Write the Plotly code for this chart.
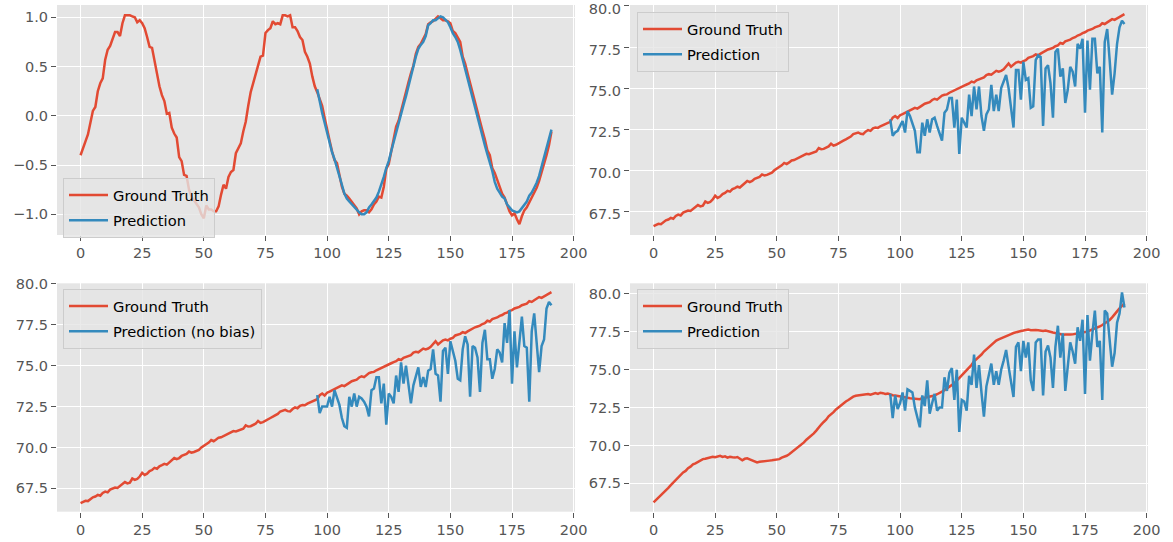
import plotly.graph_objects as go

RED = "#E24A33"
BLUE = "#348ABD"

x_full = list(range(192))
x_pred = list(range(96, 192))

sine_truth = [
    -0.40, -0.34, -0.26, -0.19, -0.06, 0.05, 0.09, 0.25, 0.33, 0.38,
    0.57, 0.67, 0.71, 0.78, 0.85, 0.85, 0.81, 0.94, 1.02, 1.02,
    1.02, 1.01, 1.00, 0.95, 0.97, 0.94, 0.89, 0.80, 0.70, 0.69,
    0.55, 0.43, 0.30, 0.21, 0.15, 0.02, 0.03, -0.12, -0.18, -0.22,
    -0.42, -0.46, -0.60, -0.61, -0.75, -0.82, -0.86, -0.89, -0.93, -1.00,
    -1.04, -0.91, -0.95, -0.95, -0.97, -0.97, -0.92, -0.80, -0.70, -0.74,
    -0.62, -0.57, -0.55, -0.38, -0.33, -0.28, -0.16, -0.06, 0.10, 0.24,
    0.33, 0.42, 0.52, 0.60, 0.61, 0.84, 0.87, 0.89, 0.96, 0.93,
    0.94, 0.93, 1.02, 1.02, 1.01, 1.02, 0.90, 0.90, 0.86, 0.80,
    0.77, 0.65, 0.60, 0.53, 0.40, 0.30, 0.24, 0.17, 0.10, -0.02,
    -0.15, -0.25, -0.36, -0.45, -0.48, -0.60, -0.72, -0.79, -0.81, -0.84,
    -0.87, -0.90, -0.94, -1.00, -0.97, -0.96, -0.96, -0.98, -0.95, -0.90,
    -0.87, -0.82, -0.83, -0.72, -0.54, -0.49, -0.36, -0.24, -0.11, -0.05,
    0.05, 0.14, 0.27, 0.34, 0.43, 0.51, 0.63, 0.70, 0.73, 0.78,
    0.83, 0.93, 0.95, 0.96, 0.99, 1.01, 0.99, 0.97, 0.97, 0.96,
    0.94, 0.86, 0.84, 0.80, 0.75, 0.60, 0.53, 0.43, 0.33, 0.22,
    0.12, 0.03, -0.05, -0.15, -0.24, -0.35, -0.40, -0.53, -0.58, -0.65,
    -0.74, -0.79, -0.83, -0.90, -0.97, -1.01, -0.99, -1.05, -1.10, -1.02,
    -0.96, -0.93, -0.88, -0.84, -0.78, -0.73, -0.66, -0.58, -0.50, -0.40,
    -0.30, -0.16,
]

sine_pred = [
    0.27, 0.14, 0.03, -0.07, -0.17, -0.28, -0.37, -0.44, -0.52, -0.60,
    -0.70, -0.79, -0.84, -0.87, -0.90, -0.93, -0.96, -0.98, -1.00, -1.00,
    -0.98, -0.93, -0.90, -0.86, -0.83, -0.77, -0.70, -0.62, -0.53, -0.46,
    -0.36, -0.26, -0.17, -0.07, 0.02, 0.11, 0.20, 0.31, 0.41, 0.50,
    0.60, 0.68, 0.72, 0.75, 0.81, 0.92, 0.94, 0.97, 0.97, 0.99,
    1.01, 1.00, 0.97, 0.95, 0.90, 0.84, 0.80, 0.75, 0.67, 0.57,
    0.49, 0.39, 0.29, 0.19, 0.09, -0.02, -0.12, -0.22, -0.30, -0.39,
    -0.47, -0.56, -0.67, -0.74, -0.78, -0.82, -0.84, -0.90, -0.93, -0.96,
    -0.97, -0.98, -0.97, -0.94, -0.91, -0.87, -0.81, -0.78, -0.73, -0.68,
    -0.61, -0.51, -0.43, -0.33, -0.24, -0.14,
]

trend_truth = [
    66.60, 66.68, 66.74, 66.72, 66.85, 66.95, 67.00, 67.10, 67.05, 67.22,
    67.30, 67.25, 67.42, 67.48, 67.55, 67.52, 67.65, 67.72, 67.88, 67.80,
    67.85, 68.10, 68.02, 68.08, 68.22, 68.45, 68.32, 68.40, 68.55, 68.62,
    68.75, 68.70, 68.85, 68.92, 69.00, 68.95, 69.10, 69.20, 69.35, 69.28,
    69.35, 69.48, 69.52, 69.60, 69.75, 69.68, 69.72, 69.80, 69.85, 70.00,
    70.10, 70.15, 70.30, 70.45, 70.38, 70.48, 70.60, 70.62, 70.70, 70.78,
    70.85, 70.92, 71.00, 70.98, 71.05, 71.10, 71.15, 71.35, 71.28, 71.30,
    71.40, 71.45, 71.62, 71.50, 71.55, 71.65, 71.75, 71.80, 71.88, 71.95,
    72.05, 72.20, 72.25, 72.30, 72.22, 72.20, 72.35, 72.45, 72.40, 72.55,
    72.60, 72.58, 72.68, 72.75, 72.80, 72.85, 72.95, 73.20, 73.30, 73.18,
    73.35, 73.42, 73.50, 73.55, 73.62, 73.70, 73.80, 73.75, 73.88, 73.95,
    74.05, 74.10, 74.15, 74.28, 74.35, 74.30, 74.45, 74.55, 74.60, 74.62,
    74.72, 74.80, 74.85, 74.95, 75.00, 75.10, 75.15, 75.22, 75.28, 75.40,
    75.35, 75.48, 75.55, 75.60, 75.65, 75.80, 75.85, 75.82, 75.95, 76.05,
    76.00, 76.05, 76.15, 76.35, 76.50, 76.30, 76.45, 76.55, 76.60, 76.55,
    76.65, 76.70, 76.85, 76.90, 76.95, 77.05, 77.00, 77.10, 77.20, 77.25,
    77.35, 77.40, 77.45, 77.55, 77.60, 77.75, 77.70, 77.85, 77.90, 77.95,
    78.05, 78.10, 78.20, 78.25, 78.35, 78.40, 78.50, 78.55, 78.60, 78.70,
    78.75, 78.80, 78.95, 78.90, 79.00, 79.10, 79.20, 79.15, 79.25, 79.30,
    79.40, 79.50,
]

trend_pred = [
    73.1, 72.1, 72.3, 72.4, 72.7, 73.0, 72.3, 73.6, 73.3, 72.9,
    72.4, 71.1, 71.1, 72.9, 72.1, 73.1, 72.3, 73.1, 73.2, 72.7,
    72.3, 71.8, 73.5, 73.7, 74.4, 74.4, 72.6, 74.3, 71.0, 73.2,
    72.9, 72.6, 74.6, 73.3, 75.1, 73.7, 75.1, 73.3, 72.4, 73.4,
    73.7, 75.2, 73.6, 74.6, 73.6, 75.0, 75.4, 75.8, 75.0, 73.8,
    72.6, 76.1, 76.1, 74.3, 76.6, 75.5, 75.6, 73.8, 73.9, 76.7,
    77.0, 76.9, 72.7, 76.2, 76.4, 75.3, 73.2, 77.2, 77.4, 75.7,
    76.2, 74.1, 74.9, 76.3, 76.0, 75.1, 77.7, 77.4, 78.0, 73.5,
    77.9, 74.9, 78.0, 78.0, 75.9, 76.3, 72.3, 77.8, 78.6, 76.7,
    74.6, 75.9, 77.7, 78.7, 79.1, 78.9,
]

trend_pred_nobias = [
    73.2, 72.1, 72.5, 72.5, 72.5, 73.1, 72.5, 73.5, 73.0, 72.6,
    71.8, 71.3, 71.2, 73.1, 72.5, 73.3, 72.5, 73.1, 73.0, 72.8,
    72.5, 71.9, 73.5, 73.6, 74.3, 74.3, 72.7, 73.9, 71.4, 73.3,
    73.1, 72.7, 74.4, 73.4, 75.2, 73.9, 75.0, 73.7, 72.7, 73.8,
    74.3, 74.9, 73.7, 74.3, 73.7, 74.7, 74.8, 76.0, 74.5, 74.4,
    72.8, 75.9, 76.1, 74.5, 76.5, 75.9, 75.3, 74.2, 74.1, 76.0,
    76.8, 76.3, 73.1, 76.2, 76.1, 75.5, 73.4, 76.4, 77.2, 75.4,
    75.4, 74.2, 74.8, 76.0, 75.8, 75.2, 77.6, 76.4, 78.4, 73.9,
    77.1, 74.9, 76.7, 78.0, 76.2, 76.1, 72.8, 77.1, 78.2, 76.6,
    74.6, 76.2, 76.6, 78.5, 78.9, 78.7,
]

curve_truth = [
    66.25, 66.40, 66.56, 66.73, 66.90, 67.05, 67.20, 67.38, 67.55, 67.75,
    67.92, 68.05, 68.22, 68.32, 68.50, 68.60, 68.75, 68.82, 68.92, 68.98,
    69.10, 69.12, 69.18, 69.20, 69.25, 69.22, 69.28, 69.32, 69.24, 69.28,
    69.20, 69.25, 69.22, 69.20, 69.24, 69.15, 69.02, 69.12, 69.15, 69.08,
    69.00, 68.95, 68.88, 68.92, 68.95, 68.96, 68.98, 69.00, 69.02, 69.05,
    69.04, 69.10, 69.20, 69.25, 69.32, 69.42, 69.55, 69.65, 69.80, 69.95,
    70.05, 70.20, 70.38, 70.50, 70.68, 70.80, 70.98, 71.20, 71.38, 71.55,
    71.70, 71.92, 72.05, 72.20, 72.38, 72.52, 72.65, 72.80, 72.90, 73.00,
    73.12, 73.22, 73.28, 73.30, 73.35, 73.33, 73.38, 73.40, 73.35, 73.42,
    73.45, 73.40, 73.48, 73.45, 73.40, 73.42, 73.35, 73.32, 73.30, 73.28,
    73.25, 73.20, 73.18, 73.15, 73.12, 73.10, 73.08, 73.10, 73.05, 73.12,
    73.15, 73.18, 73.22, 73.25, 73.30, 73.38, 73.45, 73.55, 73.65, 73.75,
    73.85, 73.98, 74.10, 74.28, 74.45, 74.58, 74.75, 74.92, 75.10, 75.32,
    75.55, 75.68, 75.85, 76.00, 76.20, 76.35, 76.48, 76.62, 76.80, 76.92,
    77.00, 77.08, 77.15, 77.20, 77.28, 77.35, 77.42, 77.48, 77.50, 77.55,
    77.58, 77.62, 77.65, 77.60, 77.63, 77.62, 77.60, 77.58, 77.55, 77.58,
    77.52, 77.50, 77.45, 77.42, 77.38, 77.32, 77.30, 77.32, 77.30, 77.32,
    77.33, 77.35, 77.38, 77.40, 77.45, 77.48, 77.52, 77.58, 77.62, 77.70,
    77.78, 77.85, 77.95, 78.05, 78.15, 78.28, 78.45, 78.62, 78.85, 79.05,
    79.20, 79.38,
]

curve_pred = [
    73.4, 71.8, 73.3, 72.4, 72.8, 73.5, 72.3, 73.7, 73.6, 73.5,
    72.5, 71.9, 71.2, 73.3, 72.6, 74.3, 72.1, 72.8, 73.4, 72.3,
    72.5, 72.5, 74.5, 73.6, 74.8, 75.1, 73.0, 75.0, 70.9, 73.0,
    72.9, 72.3, 74.6, 74.0, 76.0, 73.8, 75.3, 73.5, 71.9, 73.9,
    74.6, 75.4, 74.0, 74.9, 74.0, 75.0, 75.6, 76.3, 75.2, 74.2,
    73.2, 76.5, 76.8, 74.9, 76.9, 75.8, 76.8, 74.3, 73.6, 76.8,
    77.0, 77.0, 73.3, 76.2, 76.6, 75.8, 73.8, 76.5, 77.9, 75.8,
    77.4, 73.6, 75.0, 76.8, 76.2, 75.4, 77.8, 76.9, 78.3, 73.4,
    78.6, 75.6, 77.4, 78.9, 76.5, 76.9, 73.0, 78.9, 78.7, 76.8,
    75.2, 76.1, 78.1, 78.7, 80.1, 79.1,
]

for name, arr, n in [("sine_truth", sine_truth, 192), ("sine_pred", sine_pred, 96),
                     ("trend_truth", trend_truth, 192), ("trend_pred", trend_pred, 96),
                     ("trend_pred_nobias", trend_pred_nobias, 96),
                     ("curve_truth", curve_truth, 192), ("curve_pred", curve_pred, 96)]:
    assert len(arr) == n, (name, len(arr))

panels = [
    (sine_truth, sine_pred, "Prediction", "", "legend"),
    (trend_truth, trend_pred, "Prediction", "2", "legend2"),
    (trend_truth, trend_pred_nobias, "Prediction (no bias)", "3", "legend3"),
    (curve_truth, curve_pred, "Prediction", "4", "legend4"),
]

W, H = 1173, 542
FONT = "DejaVu Sans"
fig = go.Figure()
for truth, pred, plabel, sfx, leg in panels:
    xa, ya = "x" + sfx, "y" + sfx
    fig.add_trace(go.Scatter(x=x_full, y=truth, mode="lines", name="Ground Truth",
                             legendgroup="gt" + sfx,
                             line=dict(color=RED, width=2.5), xaxis=xa, yaxis=ya, legend=leg))
    fig.add_trace(go.Scatter(x=x_pred, y=pred, mode="lines", name=plabel,
                             legendgroup="pr" + sfx,
                             line=dict(color=BLUE, width=2.5), xaxis=xa, yaxis=ya, legend=leg))

left = [57 / W, 575 / W]
right = [630 / W, 1148 / W]
top = [1 - 235 / H, 1 - 5 / H]
bottom = [1 - 511.7 / H, 1 - 283.3 / H]

axis_common = dict(showgrid=True, gridcolor="white", gridwidth=1.3, zeroline=False,
                   showline=False, ticks="outside", ticklen=5, tickwidth=1.2,
                   tickcolor="#555555", automargin=False, ticklabeloverflow="allow",
                   tickfont=dict(family=FONT, size=14.5, color="#555555"))

def xaxis(domain, anchor):
    return dict(axis_common, domain=domain, anchor=anchor, range=[-9.55, 200.55],
                tick0=0, dtick=25)

def yaxis(domain, anchor, rng, dtick, tick0, shift=0):
    return dict(axis_common, domain=domain, anchor=anchor, range=rng,
                tick0=tick0, dtick=dtick, tickformat=".1f", ticklabelshift=shift)

leg_common = dict(bgcolor="rgba(229,229,229,0.8)", bordercolor="#CCCCCC", borderwidth=1,
                  font=dict(family=FONT, size=14.7, color="#000000"),
                  xanchor="left", yanchor="top", tracegroupgap=3, itemwidth=39)

fig.update_layout(
    template="none",
    width=W, height=H, autosize=False,
    margin=dict(l=0, r=0, t=0, b=0, pad=0),
    paper_bgcolor="white", plot_bgcolor="#E5E5E5",
    font=dict(family=FONT, size=14.5, color="#555555"),
    showlegend=True,
    xaxis=xaxis(left, "y"), yaxis=yaxis(top, "x", [-1.21, 1.125], 0.5, 0),
    xaxis2=xaxis(right, "y2"), yaxis2=yaxis(top, "x2", [66.06, 80.06], 2.5, 67.5, shift=3),
    xaxis3=xaxis(left, "y3"), yaxis3=yaxis(bottom, "x3", [66.07, 80.04], 2.5, 67.5),
    xaxis4=xaxis(right, "y4"), yaxis4=yaxis(bottom, "x4", [65.63, 80.70], 2.5, 67.5),
    legend=dict(leg_common, x=63 / W, y=1 - 178 / H),
    legend2=dict(leg_common, x=637 / W, y=1 - 12 / H),
    legend3=dict(leg_common, x=63 / W, y=1 - 289 / H),
    legend4=dict(leg_common, x=637 / W, y=1 - 289 / H),
)

fig.write_html("out.html", config={"displayModeBar": False},
               post_script="document.body.style.margin='0';document.body.style.overflow='hidden';")
